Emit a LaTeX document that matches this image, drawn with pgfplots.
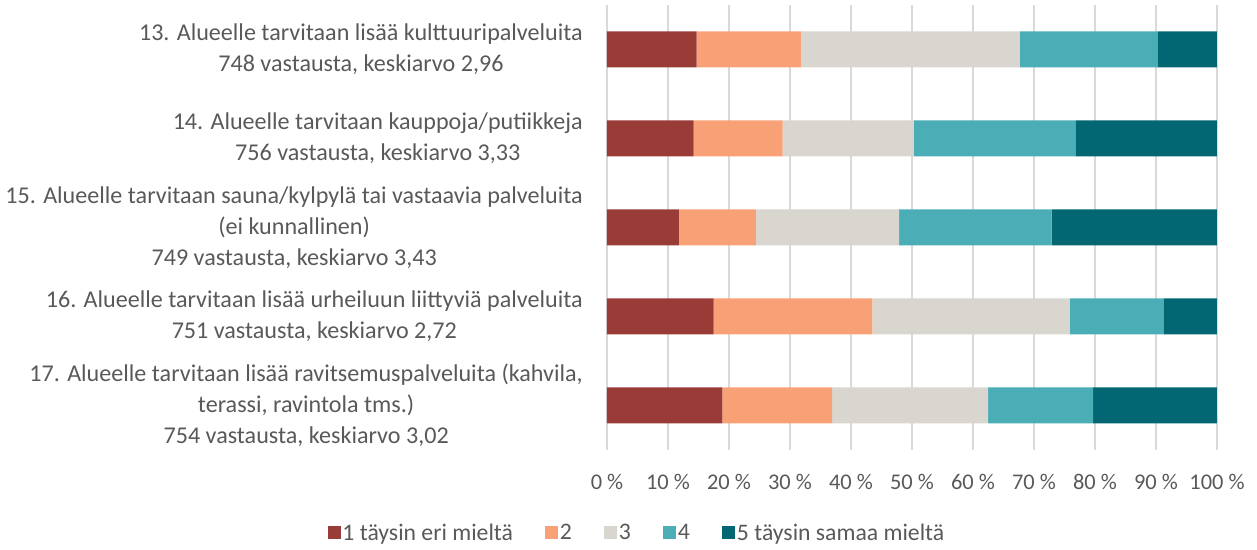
\documentclass[border=0pt]{standalone}
\usepackage{fontspec}
\setmainfont{Carlito}
\usepackage{pgfplots}
\pgfplotsset{compat=1.18}
\definecolor{c1}{HTML}{993B37}
\definecolor{c2}{HTML}{F8A176}
\definecolor{c3}{HTML}{D9D6CF}
\definecolor{c4}{HTML}{4BADB6}
\definecolor{c5}{HTML}{026673}
\definecolor{txt}{HTML}{595959}
\definecolor{grd}{HTML}{D9D9D9}
\begin{document}
\begin{tikzpicture}
\begin{axis}[
  scale only axis,
  width=610bp, height=445bp,
  xbar stacked,
  bar width=36bp,
  xmin=0, xmax=100,
  ymin=0.5, ymax=5.5,
  y dir=reverse,
  axis line style={draw=none},
  xmajorgrids,
  grid style={draw=grd, line width=1.2bp},
  major tick length=0pt,
  tick style={draw=none},
  xtick={0,10,...,100},
  xticklabels={0 \%,10 \%,20 \%,30 \%,40 \%,50 \%,60 \%,70 \%,80 \%,90 \%,100 \%},
  xticklabel style={font=\fontsize{22.5}{26}\selectfont, text=txt, inner sep=0pt, anchor=center, yshift=-32bp},
  ytick={1,2,3,4,5},
  yticklabels={
    {13. Alueelle tarvitaan lisää kulttuuripalveluita\\748 vastausta, keskiarvo 2,96},
    {14. Alueelle tarvitaan kauppoja/putiikkeja\\756 vastausta, keskiarvo 3,33},
    {15. Alueelle tarvitaan sauna/kylpylä tai vastaavia palveluita\\(ei kunnallinen)\\749 vastausta, keskiarvo 3,43},
    {16. Alueelle tarvitaan lisää urheiluun liittyviä palveluita\\751 vastausta, keskiarvo 2,72},
    {17. Alueelle tarvitaan lisää ravitsemuspalveluita (kahvila,\\terassi, ravintola tms.)\\754 vastausta, keskiarvo 3,02}},
  yticklabel style={font=\fontsize{24.2}{31}\selectfont, text=txt, align=center, inner sep=0pt, anchor=east, xshift=-24bp},
  legend columns=5,
  legend style={draw=none, fill=none, at={(axis description cs:0.049,-0.1865)}, anchor=center,
    font=\fontsize{23.8}{26}\selectfont, text=txt,
    /tikz/every even column/.append style={column sep=30bp}},
  legend cell align=left,
  legend image code/.code={\fill[#1] (0bp,-6.5bp) rectangle (13bp,6.5bp);},
]
\addplot[fill=c1, draw=none] coordinates {(14.7,1) (14.2,2) (11.8,3) (17.5,4) (18.9,5)};
\addplot[fill=c2, draw=none] coordinates {(17.1,1) (14.6,2) (12.6,3) (26.0,4) (18.0,5)};
\addplot[fill=c3, draw=none] coordinates {(35.9,1) (21.5,2) (23.5,3) (32.4,4) (25.6,5)};
\addplot[fill=c4, draw=none] coordinates {(22.6,1) (26.5,2) (25.0,3) (15.3,4) (17.2,5)};
\addplot[fill=c5, draw=none] coordinates {(9.7,1) (23.2,2) (27.1,3) (8.8,4) (20.3,5)};
\legend{1 täysin eri mieltä, 2, 3, 4, 5 täysin samaa mieltä}
\end{axis}
\pgfresetboundingbox
\path[use as bounding box] ([xshift=-607bp,yshift=-100bp]current axis.south west) rectangle ([xshift=40bp,yshift=5bp]current axis.north east);
\end{tikzpicture}
\end{document}
